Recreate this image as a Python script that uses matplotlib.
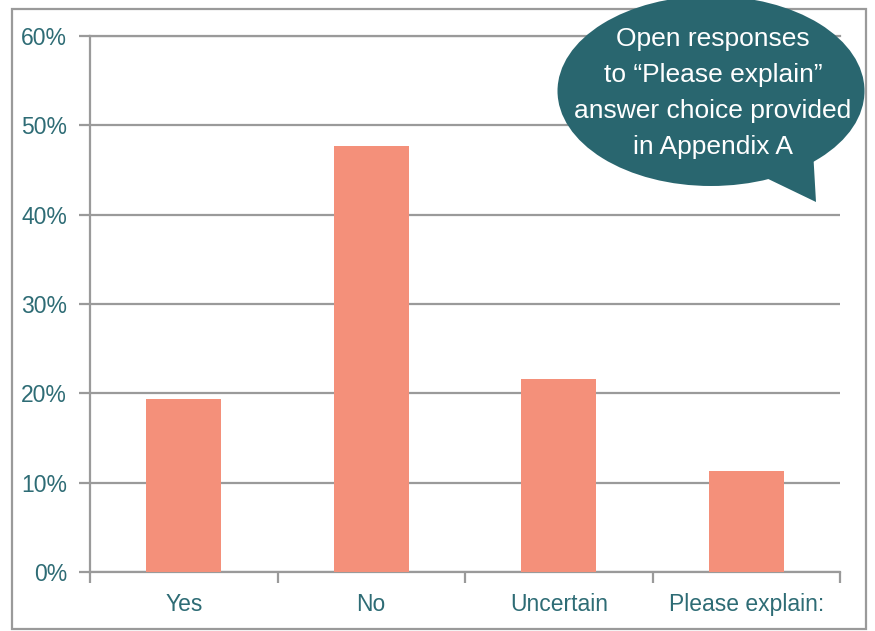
import matplotlib
matplotlib.use("Agg")
import matplotlib.pyplot as plt
from matplotlib.patches import Ellipse, Polygon, Rectangle
from matplotlib.ticker import FixedLocator, PercentFormatter

plt.rcParams['font.family'] = ['Liberation Sans Narrow', 'Liberation Sans', 'DejaVu Sans']

categories = ["Yes", "No", "Uncertain", "Please explain:"]
values = [19.4, 47.7, 21.6, 11.3]
yticks = [0, 10, 20, 30, 40, 50, 60]
note = "Open responses\nto \u201cPlease explain\u201d\nanswer choice provided\nin Appendix A"

bar_color = "#F4907A"
teal = "#2E6C75"
bubble_color = "#29666F"
grey = "#9A9A9A"

W, H = 875, 631
fig = plt.figure(figsize=(W / 100, H / 100), dpi=100)
ax = fig.add_axes([90 / W, 1 - 572 / H, 750 / W, 536 / H])

x = range(len(categories))
ax.bar(x, values, width=0.4, color=bar_color, zorder=3)

ax.set_xlim(-0.5, len(categories) - 0.5)
ax.set_ylim(0, 60)
ax.set_yticks(yticks)
ax.yaxis.set_major_formatter(PercentFormatter(decimals=0))
ax.set_xticks(list(x))
ax.set_xticklabels(categories)
ax.xaxis.set_minor_locator(FixedLocator([i - 0.5 for i in range(len(categories) + 1)]))

ax.grid(axis="y", color=grey, linewidth=1.6, zorder=1)
ax.axhline(yticks[-1], color=grey, linewidth=1.6, clip_on=False, zorder=1)
ax.tick_params(axis="y", length=8, width=1.6, color=grey, pad=8.5,
               labelsize=16.5, labelcolor=teal)
ax.tick_params(axis="x", which="major", length=0, pad=15,
               labelsize=16.5, labelcolor=teal)
ax.tick_params(axis="x", which="minor", length=8, width=1.6, color=grey)

for side in ["top", "right"]:
    ax.spines[side].set_visible(False)
for side in ["left", "bottom"]:
    ax.spines[side].set_color(grey)
    ax.spines[side].set_linewidth(1.6)

# outer frame and speech bubble, placed in figure pixels
px = fig.transFigure
def fx(v):
    return v / W
def fy(v):
    return 1 - v / H

fig.patches.append(Rectangle((fx(12), fy(629)), fx(854), 620 / H, transform=px,
                             fill=False, edgecolor=grey, linewidth=1.6))
fig.patches.append(Polygon([(fx(762), fy(176)), (fx(816), fy(202)), (fx(813), fy(150))],
                           closed=True, transform=px, facecolor=bubble_color,
                           edgecolor="none", zorder=10))
fig.patches.append(Ellipse((fx(711), fy(91)), 307 / W, 190 / H, transform=px,
                           facecolor=bubble_color, edgecolor="none", zorder=10))
fig.text(fx(713), fy(93), note, ha="center", va="center", color="white",
         fontsize=19, linespacing=1.62, zorder=11)

fig.savefig("out.png", dpi=100)
